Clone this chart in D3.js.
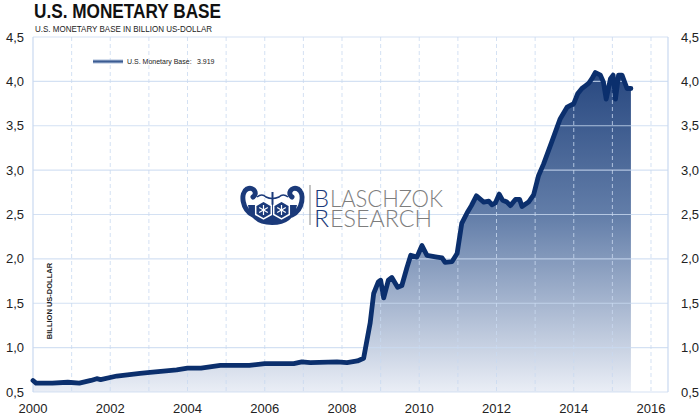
<!DOCTYPE html>
<html>
<head>
<meta charset="utf-8">
<script src="https://cdn.jsdelivr.net/npm/d3@7"></script>
<style>
 body{margin:0;background:#fff;}
 svg{display:block;}
 text{font-family:"Liberation Sans",Arial,sans-serif;}
</style>
</head>
<body>
<div id="chart"></div>
<script>
// monetary base (year as decimal, value in trillion)
var years = [2000.00,2000.08,2000.50,2000.90,2001.20,2001.50,2001.65,2001.75,2002.17,2002.77,
             2003.03,2003.72,2004.00,2004.35,2004.85,2005.60,2006.00,2006.75,2006.96,2007.18,
             2007.87,2008.13,2008.40,2008.56,2008.73,2008.82,2008.94,2009.00,2009.08,2009.20,
             2009.29,2009.44,2009.55,2009.68,2009.78,2009.94,2010.07,2010.20,2010.46,2010.59,
             2010.67,2010.85,2010.98,2011.10,2011.24,2011.35,2011.48,2011.67,2011.80,2011.88,
             2011.97,2012.07,2012.16,2012.27,2012.36,2012.49,2012.60,2012.66,2012.83,2012.96,
             2013.09,2013.22,2013.44,2013.65,2013.83,2014.00,2014.10,2014.21,2014.30,2014.39,
             2014.47,2014.56,2014.69,2014.77,2014.84,2014.95,2015.02,2015.08,2015.16,2015.25,
             2015.38,2015.48];
var values = [0.63,0.60,0.60,0.61,0.60,0.63,0.65,0.64,0.68,0.71,
              0.72,0.75,0.77,0.77,0.80,0.80,0.82,0.82,0.84,0.83,
              0.84,0.83,0.85,0.88,1.28,1.61,1.74,1.76,1.56,1.76,
              1.79,1.68,1.70,1.90,2.04,2.02,2.15,2.04,2.02,2.01,
              1.96,1.97,2.06,2.40,2.52,2.60,2.71,2.64,2.65,2.61,
              2.63,2.73,2.66,2.64,2.60,2.67,2.67,2.59,2.64,2.72,
              2.94,3.07,3.33,3.58,3.71,3.75,3.86,3.92,3.95,3.98,
              4.03,4.10,4.07,3.99,3.80,4.03,4.07,3.80,4.07,4.07,
              3.92,3.92];
var yTicks = [0.5,1.0,1.5,2.0,2.5,3.0,3.5,4.0,4.5];
var xLabels = [2000,2002,2004,2006,2008,2010,2012,2014,2016];
var xGrid = [2001,2002,2003,2004,2005,2006,2007,2008,2009,2010,2011,2012,2013,2014,2015,2016];
var seriesName = "U.S. Monetary Base:";
var lastValue = "3.919";

function init(){
    var w = 700, h = 414;
    var left = 33, right = 668, top = 37, bottom = 392;
    var svg = d3.select("#chart").append("svg")
                .attr("width", w)
                .attr("height", h);

    var gridColor = "#c9d9f0";
    var navy = "#0b2f6d";

    var xScale = d3.scaleLinear()
                .domain([2000, 2000 + (right - left) / 38.625])
                .range([left, right]);
    var yScale = d3.scaleLinear()
                .domain([0.5, 4.5])
                .range([bottom, top]);

    var data = years.map(function(d, i){ return [d, values[i]]; });

    // gradients
    var defs = svg.append("defs");
    var grad = defs.append("linearGradient")
                .attr("id", "fillGrad")
                .attr("x1", 0).attr("y1", 0).attr("x2", 0).attr("y2", 1);
    grad.append("stop").attr("offset", "0%").attr("stop-color", "#284880");
    grad.append("stop").attr("offset", "45%").attr("stop-color", "#637ea9");
    grad.append("stop").attr("offset", "100%").attr("stop-color", "#eaeef6");
    var lgrad = defs.append("linearGradient")
                .attr("id", "legGrad")
                .attr("x1", 0).attr("y1", 0).attr("x2", 0).attr("y2", 1);
    lgrad.append("stop").attr("offset", "0%").attr("stop-color", "#a9bbd8");
    lgrad.append("stop").attr("offset", "50%").attr("stop-color", "#3c5c92");
    lgrad.append("stop").attr("offset", "100%").attr("stop-color", "#a9bbd8");

    // area
    var area = d3.area()
                .x(function(d){ return xScale(d[0]); })
                .y0(yScale(0.5))
                .y1(function(d){ return yScale(d[1]); });
    svg.append("path")
        .datum(data)
        .attr("d", area)
        .attr("fill", "url(#fillGrad)");

    // grid lines (drawn over the fill)
    svg.selectAll(".hgrid")
        .data(yTicks)
        .enter()
        .append("line")
        .attr("class", "hgrid")
        .attr("x1", left).attr("x2", right)
        .attr("y1", function(d){ return yScale(d); })
        .attr("y2", function(d){ return yScale(d); })
        .attr("stroke", gridColor)
        .attr("stroke-opacity", 0.8)
        .attr("stroke-width", 1.2);

    svg.selectAll(".vgrid")
        .data(xGrid)
        .enter()
        .append("line")
        .attr("class", "vgrid")
        .attr("x1", function(d){ return xScale(d); })
        .attr("x2", function(d){ return xScale(d); })
        .attr("y1", top).attr("y2", bottom)
        .attr("stroke", gridColor)
        .attr("stroke-opacity", 0.8)
        .attr("stroke-dasharray", "4,3");

    // plot borders left / right
    [left, right].forEach(function(x){
        svg.append("line")
            .attr("x1", x).attr("x2", x)
            .attr("y1", top).attr("y2", bottom)
            .attr("stroke", gridColor)
            .attr("stroke-width", 1.2);
    });

    // line
    var line = d3.line()
                .x(function(d){ return xScale(d[0]); })
                .y(function(d){ return yScale(d[1]); });
    svg.append("path")
        .datum(data)
        .attr("d", line)
        .attr("fill", "none")
        .attr("stroke", navy)
        .attr("stroke-width", 4.8)
        .attr("stroke-linejoin", "round")
        .attr("stroke-linecap", "round");

    // y labels both sides
    var fmt = function(d){ return d3.format(".1f")(d).replace(".", ","); };
    svg.selectAll(".yl")
        .data(yTicks)
        .enter()
        .append("text")
        .attr("class", "yl")
        .attr("x", 6)
        .attr("y", function(d){ return yScale(d) + 4.5; })
        .style("font-size", "13px")
        .style("fill", "#222")
        .text(fmt);
    svg.selectAll(".yr")
        .data(yTicks)
        .enter()
        .append("text")
        .attr("class", "yr")
        .attr("x", 681)
        .attr("y", function(d){ return yScale(d) + 4.5; })
        .style("font-size", "13px")
        .style("fill", "#222")
        .text(fmt);

    // x labels
    svg.selectAll(".xl")
        .data(xLabels)
        .enter()
        .append("text")
        .attr("class", "xl")
        .attr("x", function(d){ return xScale(d); })
        .attr("y", 412.5)
        .attr("text-anchor", "middle")
        .style("font-size", "13px")
        .style("fill", "#222")
        .text(function(d){ return d; });

    // titles
    svg.append("text")
        .attr("x", 34).attr("y", 18)
        .attr("textLength", 187)
        .attr("lengthAdjust", "spacingAndGlyphs")
        .style("font-family", "'Liberation Sans Narrow','Arial Narrow','Liberation Sans',sans-serif")
        .style("font-weight", "bold")
        .style("font-size", "20px")
        .style("fill", "#111")
        .text("U.S. MONETARY BASE");
    svg.append("text")
        .attr("x", 35).attr("y", 32)
        .attr("textLength", 177)
        .attr("lengthAdjust", "spacingAndGlyphs")
        .style("font-size", "8.5px")
        .style("fill", "#222")
        .text("U.S. MONETARY BASE IN BILLION US-DOLLAR");

    // y axis title
    svg.append("text")
        .attr("transform", "translate(52,301) rotate(-90)")
        .attr("text-anchor", "middle")
        .style("font-size", "7.5px")
        .style("font-weight", "bold")
        .style("fill", "#222")
        .text("BILLION US-DOLLAR");

    // legend
    svg.append("rect")
        .attr("x", 93).attr("y", 59.5)
        .attr("width", 30).attr("height", 4)
        .attr("fill", "url(#legGrad)");
    svg.append("text")
        .attr("x", 127).attr("y", 64)
        .style("font-size", "7px")
        .style("fill", "#222")
        .text(seriesName);
    svg.append("text")
        .attr("x", 197).attr("y", 64)
        .style("font-size", "7px")
        .style("fill", "#222")
        .text(lastValue);

    drawLogo(svg);
}

// Blaschzok research logo
function drawLogo(svg){
    var blue = "#1b3a7a";
    var grey = "#7d7d7d";
    var g = svg.append("g");
    // hull
    g.append("path")
        .attr("d", "M248,205 Q250,225 272,225 Q294,225 297,205 Z")
        .attr("fill", blue);
    // curled ends
    g.append("path")
        .attr("d", "M253,215 C242,210 240,193 247,189 C254,186 258,194 253,197")
        .attr("fill", "none").attr("stroke", blue).attr("stroke-width", 5)
        .attr("stroke-linecap", "round");
    g.append("path")
        .attr("d", "M292,215 C303,210 305,193 298,189 C291,186 287,194 292,197")
        .attr("fill", "none").attr("stroke", blue).attr("stroke-width", 5)
        .attr("stroke-linecap", "round");
    // rail
    g.append("path")
        .attr("d", "M257,197 Q262,193 266,197 Q272,200 279,197 Q283,193 288,197")
        .attr("fill", "none").attr("stroke", blue).attr("stroke-width", 1.6);
    g.append("line")
        .attr("x1", 272.5).attr("x2", 272.5).attr("y1", 192).attr("y2", 208)
        .attr("stroke", blue).attr("stroke-width", 2);
    // shields
    [263.5, 281.5].forEach(function(cx){
        var cy = 210, r = 9;
        var pts = d3.range(6).map(function(i){
            var a = Math.PI / 3 * i + Math.PI / 6;
            return [cx + r * Math.cos(a), cy + r * Math.sin(a)];
        });
        g.append("polygon")
            .attr("points", pts.map(function(p){ return p.join(","); }).join(" "))
            .attr("fill", blue).attr("stroke", "#fff").attr("stroke-width", 1.5);
        [0, 60, 120].forEach(function(deg){
            var a = deg * Math.PI / 180;
            g.append("line")
                .attr("x1", cx - 5 * Math.sin(a)).attr("y1", cy - 5 * Math.cos(a))
                .attr("x2", cx + 5 * Math.sin(a)).attr("y2", cy + 5 * Math.cos(a))
                .attr("stroke", "#fff").attr("stroke-width", 1.2);
        });
    });
    // separator
    g.append("line")
        .attr("x1", 310).attr("x2", 310).attr("y1", 185).attr("y2", 225)
        .attr("stroke", "#8a8a8a").attr("stroke-width", 1);
    // text, first letter in blue
    var rows = [["B", "LASCHZOK", 206.5, 113], ["R", "ESEARCH", 227, 102]];
    rows.forEach(function(r){
        g.append("text")
            .attr("x", 314).attr("y", r[2])
            .attr("textLength", 15)
            .attr("lengthAdjust", "spacingAndGlyphs")
            .style("font-family", "Lato,'Open Sans',sans-serif")
            .style("font-weight", 300)
            .style("font-size", "24px")
            .style("fill", blue)
            .text(r[0]);
        g.append("text")
            .attr("x", 330).attr("y", r[2])
            .attr("textLength", r[3])
            .attr("lengthAdjust", "spacingAndGlyphs")
            .style("font-family", "Lato,'Open Sans',sans-serif")
            .style("font-weight", 300)
            .style("font-size", "24px")
            .style("fill", grey)
            .text(r[1]);
    });
}
window.onload = init;
</script>
</body>
</html>
